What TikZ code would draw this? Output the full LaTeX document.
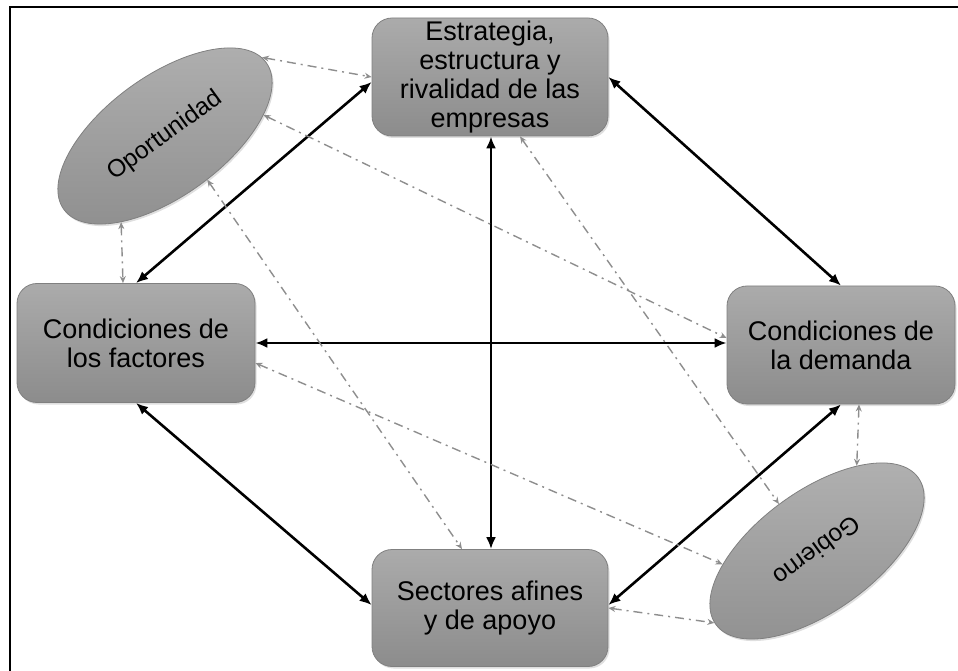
\documentclass[tikz,border=0pt]{standalone}
\usepackage{fontspec}
\setmainfont{Liberation Sans}
\usetikzlibrary{shapes.geometric,arrows.meta,shadows}
\definecolor{boxtop}{HTML}{ABABAB}
\definecolor{boxbot}{HTML}{8C8C8C}
\definecolor{elltop}{HTML}{B0B0B0}
\definecolor{ellbot}{HTML}{909090}
\definecolor{edgegray}{HTML}{808080}
\definecolor{dashgray}{HTML}{8E8E8E}
\begin{document}
\begin{tikzpicture}[x=1pt,y=1pt,
  factor/.style={rectangle, rounded corners=20pt, draw=edgegray, line width=0.8pt,
    top color=boxtop, bottom color=boxbot, minimum width=236pt, minimum height=118pt,
    align=center, font=\fontsize{27}{29}\selectfont, inner sep=0pt,
    drop shadow={opacity=0.25,shadow xshift=1.5pt,shadow yshift=-2pt}},
  chance/.style={ellipse, draw=edgegray, line width=0.8pt,
    top color=elltop, bottom color=ellbot, minimum width=250pt, minimum height=120pt,
    inner sep=0pt, font=\fontsize{24.5}{29}\selectfont,
    drop shadow={opacity=0.25,shadow xshift=1.5pt,shadow yshift=-2pt}},
  strong/.style={{Latex[length=12pt,width=10pt]}-{Latex[length=12pt,width=10pt]}, line width=2.6pt},
  weak/.style={{Stealth[length=7pt,width=6pt]}-{Stealth[length=7pt,width=6pt]}, draw=dashgray,
    line width=1.4pt, dash pattern=on 9pt off 5pt on 2pt off 5pt},
  frameline/.style={line width=1.5pt}
]
\useasboundingbox (0,0) rectangle (958,670);
\draw[frameline] (10,-2) -- (10,663) -- (960,663);

% factor boxes
\node[factor] (E) at (490,593) {Estrategia,\\ estructura y\\ rivalidad de las\\ empresas};
\node[factor, minimum width=238pt, minimum height=119pt] (F) at (136,327) {Condiciones de\\ los factores};
\node[factor, minimum width=228pt] (D) at (841,325) {Condiciones de\\ la demanda};
\node[factor, minimum height=117pt] (S) at (490,62) {Sectores afines\\ y de apoyo};

% chance ellipses
\node[chance, rotate=36] (O) at (165,534) {Oportunidad};
\node[chance, rotate=216] (G) at (817,119) {Gobierno};

% strong links
\draw[strong] ([yshift=-5pt]E.west) -- (F.north);
\draw[strong] (E.east) -- (D.north);
\draw[strong] ([xshift=1pt]E.south) -- ([xshift=1pt]S.north);
\draw[strong] (F.east) -- (F.east -| D.west);
\draw[strong] (F.south) -- ([yshift=3pt]S.west);
\draw[strong] (D.south) -- ([yshift=3pt]S.east);

% weak links
\draw[weak] (O.3) -- (E.west);
\draw[weak] (O.-24) -- ([yshift=7pt]D.west);
\draw[weak] (O.-82) -- ([xshift=-28pt]S.north);
\draw[weak] (O.-153) -- ([xshift=-13pt]F.north);
\draw[weak] ([yshift=-20pt]F.east) -- (G.-28);
\draw[weak] ([xshift=30pt]E.south) -- (G.-87);
\draw[weak] ([xshift=18pt]D.south) -- (G.-151);
\draw[weak] (S.east) -- (G.-1);
\end{tikzpicture}
\end{document}
